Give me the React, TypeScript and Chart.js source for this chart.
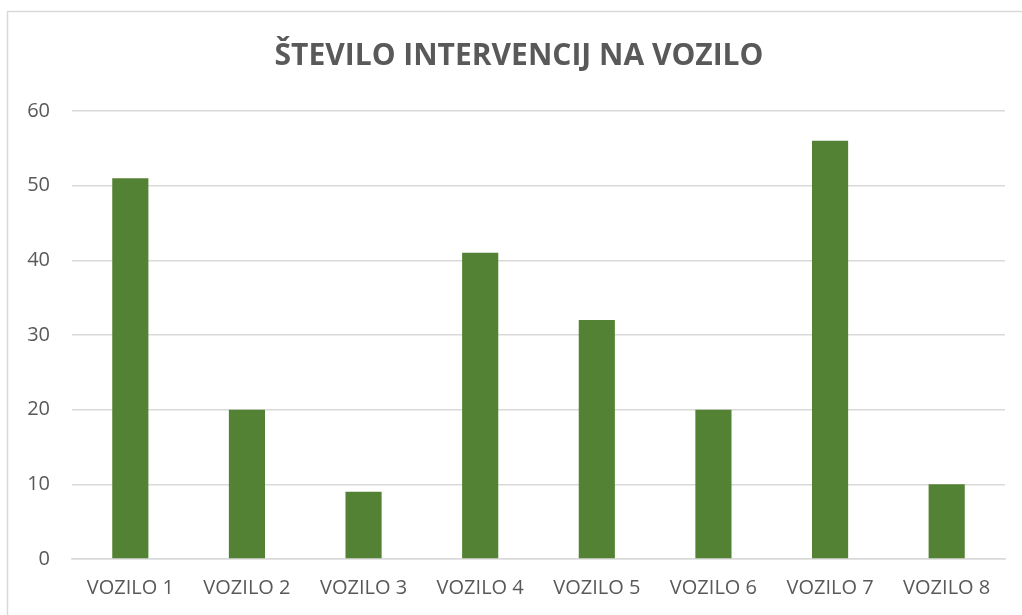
import React, { useEffect, useRef } from "react";
import { Chart, registerables } from "chart.js";

Chart.register(...registerables);

const categories = ["VOZILO 1", "VOZILO 2", "VOZILO 3", "VOZILO 4", "VOZILO 5", "VOZILO 6", "VOZILO 7", "VOZILO 8"];
const interventions = [51, 20, 9, 41, 32, 20, 56, 10];
const titleText = "ŠTEVILO INTERVENCIJ NA VOZILO";
const yMin = 0;
const yMax = 60;
const yStep = 10;

const FONT = "'Open Sans', 'Noto Sans', sans-serif";
const TEXT = "#595959";
const GRID = "#d9d9d9";

const borderPlugin = {
  id: "outerBorder",
  beforeDraw(chart: any) {
    const ctx = chart.ctx;
    ctx.save();
    ctx.fillStyle = "#ffffff";
    ctx.fillRect(0, 0, chart.width, chart.height);
    ctx.strokeStyle = GRID;
    ctx.lineWidth = 1.5;
    ctx.strokeRect(7.5, 11.5, chart.width + 20, chart.height + 20);
    ctx.restore();
  },
  afterLayout(chart: any) {
    // the chart frame extends beyond the window; centre the title on the frame
    const tb = chart.titleBlock;
    if (tb) {
      tb.left = 7;
      tb.right = 1031;
    }
  },
};

export default function App() {
  const ref = useRef<HTMLCanvasElement | null>(null);
  useEffect(() => {
    if (!ref.current) return;
    const chart = new Chart(ref.current, {
      type: "bar",
      data: {
        labels: categories,
        datasets: [
          {
            data: interventions,
            backgroundColor: "#548235",
            borderWidth: 0,
            categoryPercentage: 1,
            barPercentage: 0.31,
          },
        ],
      },
      options: {
        animation: false,
        responsive: false,
        layout: { padding: { left: 0, right: 17, top: 0, bottom: 0 } },
        plugins: {
          legend: { display: false },
          tooltip: { enabled: false },
          title: {
            display: true,
            text: titleText,
            color: TEXT,
            font: { family: FONT, size: 30, weight: "bold", lineHeight: 1.2 },
            padding: { top: 38, bottom: 37 },
          },
        },
        scales: {
          x: {
            grid: { display: false, drawTicks: false },
            border: { color: GRID, width: 1.5 },
            ticks: { color: TEXT, font: { family: FONT, size: 20 }, padding: 17, maxRotation: 0 },
            afterFit(scale: any) {
              scale.height = 56;
            },
          },
          y: {
            min: yMin,
            max: yMax,
            grid: { color: GRID, lineWidth: 1.5, drawTicks: false },
            border: { display: false },
            ticks: { stepSize: yStep, color: TEXT, font: { family: FONT, size: 20 }, padding: 22 },
            afterFit(scale: any) {
              scale.width = 72;
            },
          },
        },
      },
      plugins: [borderPlugin],
    });
    return () => chart.destroy();
  }, []);
  return (
    <canvas
      ref={ref}
      width={1022}
      height={615}
      style={{ position: "fixed", left: 0, top: 0, width: 1022, height: 615 }}
    />
  );
}
